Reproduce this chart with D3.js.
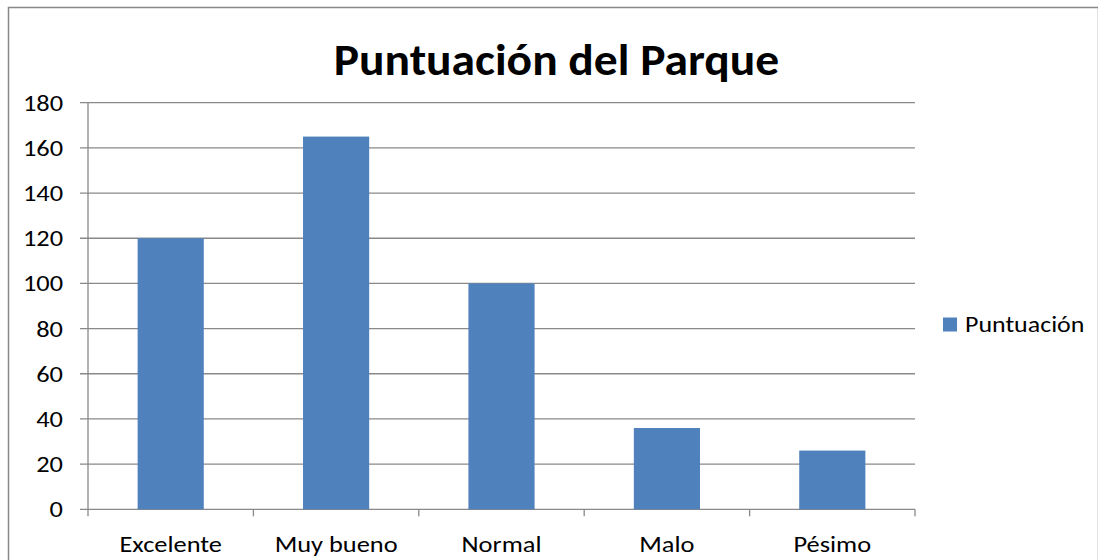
<!DOCTYPE html>
<html><head><meta charset="utf-8">
<script src="https://cdn.jsdelivr.net/npm/d3@7"></script>
<style>body{margin:0;background:#fff}svg{display:block}</style>
</head><body>
<script>
const categories = ["Excelente", "Muy bueno", "Normal", "Malo", "Pésimo"];
const values = [120, 165, 100, 36, 26];
const yTicks = [0, 20, 40, 60, 80, 100, 120, 140, 160, 180];
const seriesName = "Puntuación";
const title = "Puntuación del Parque";

(function () {
const W = 1098, H = 560;
const font = "Carlito, Calibri, Lato, sans-serif";
const svg = d3.select("body").append("svg").attr("width", W).attr("height", H);

function addText(g, tx, ty, str, size, anchor, weight, sx) {
  return g.append("text")
    .attr("transform", `translate(${tx},${ty}) scale(${sx},1)`)
    .attr("text-anchor", anchor).attr("font-family", font)
    .attr("font-size", size).attr("font-weight", weight || "normal")
    .attr("fill", "#000").text(str);
}

// outer border
svg.append("rect").attr("x", 8.5).attr("y", 7.5).attr("width", W - 8).attr("height", H)
  .attr("fill", "none").attr("stroke", "#878787").attr("stroke-width", 1.5);

const pLeft = 88, pRight = 915, pTop = 102.7, pBottom = 509.3;
const x = d3.scaleBand().domain(categories).range([pLeft, pRight]).padding(0);
const y = d3.scaleLinear().domain([0, 180]).range([pBottom, pTop]);

// gridlines
svg.append("g").selectAll("line").data(yTicks).join("line")
  .attr("x1", pLeft - 8).attr("x2", pRight)
  .attr("y1", d => y(d)).attr("y2", d => y(d))
  .attr("stroke", "#898989").attr("stroke-width", 1.3);

// y axis line
svg.append("line").attr("x1", pLeft).attr("x2", pLeft).attr("y1", pTop).attr("y2", pBottom)
  .attr("stroke", "#898989").attr("stroke-width", 1.3);

// x tick marks
const xb = categories.map(c => x(c)).concat([pRight]);
svg.append("g").selectAll("line").data(xb).join("line")
  .attr("x1", d => d).attr("x2", d => d).attr("y1", pBottom).attr("y2", pBottom + 7)
  .attr("stroke", "#898989").attr("stroke-width", 1.3);

// bars
const bw = x.bandwidth() * 0.4;
svg.append("g").selectAll("rect").data(values).join("rect")
  .attr("x", (d, i) => x(categories[i]) + (x.bandwidth() - bw) / 2)
  .attr("width", bw)
  .attr("y", d => y(d)).attr("height", d => pBottom - y(d))
  .attr("fill", "#4F81BD");

const sSmall = 1.2;
// y labels
const gy = svg.append("g");
yTicks.forEach(t => addText(gy, 63, y(t) + 8, t, 22, "end", "normal", sSmall));

// x labels
const gx = svg.append("g");
categories.forEach(c => addText(gx, x(c) + x.bandwidth() / 2, 552, c, 22, "middle", "normal", sSmall));

// title
addText(svg, 556.5, 75, title, 44, "middle", "bold", 1.08);

// legend
svg.append("rect").attr("x", 943).attr("y", 317.5).attr("width", 14).attr("height", 14).attr("fill", "#4F81BD");
addText(svg, 965, 332, seriesName, 22, "start", "normal", 1.18);
})();
</script>
</body></html>
